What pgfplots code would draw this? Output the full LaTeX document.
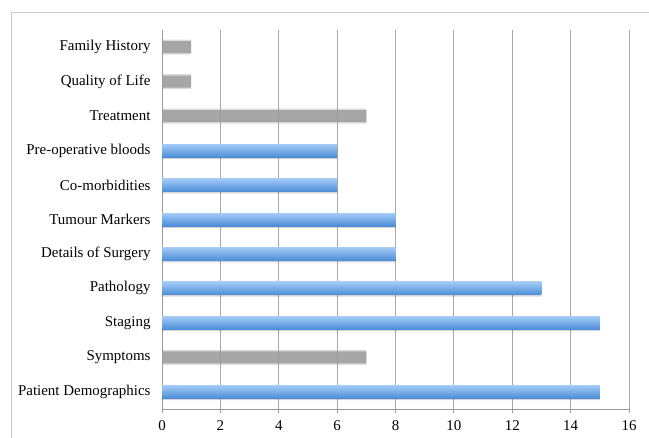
\documentclass[border=0pt]{standalone}
\usepackage{fontspec}
\setmainfont{Liberation Serif}
\usepackage{pgfplots}
\pgfplotsset{compat=1.18}
\definecolor{bluetop}{HTML}{A3CBF6}
\definecolor{bluebot}{HTML}{4C8DD8}
\definecolor{greybar}{HTML}{999999}
\definecolor{gridc}{HTML}{A8A8A8}
\definecolor{axisc}{HTML}{9A9A9A}
\definecolor{framec}{HTML}{C8C8C8}
\pgfplotsset{bluebar/.style={xbar, bar width=13bp, top color=bluetop, bottom color=bluebot, draw=none},
  shadowbar/.style={xbar, bar width=13bp, bar shift=-1.8bp, fill=black, fill opacity=0.16, draw=none}}
\begin{document}
\begin{tikzpicture}[x=1bp,y=1bp]
\useasboundingbox (0,0) rectangle (649,-438);
\draw[framec, line width=0.9bp] (11,-438) -- (11,-12) -- (649,-12);
\begin{axis}[
  at={(162bp,-409bp)}, anchor=south west,
  scale only axis, width=467bp, height=379bp,
  xmin=0, xmax=16, ymin=-0.5, ymax=10.5,
  xtick={0,2,...,16},
  ytick={0,...,10},
  yticklabels={Patient Demographics,Symptoms,Staging,Pathology,Details of Surgery,Tumour Markers,Co-morbidities,Pre-operative bloods,Treatment,Quality of Life,Family History},
  minor ytick={-0.5,0.5,...,10.5},
  axis x line*=bottom, axis y line*=left,
  axis line style={axisc, line width=0.8bp},
  tick align=outside,
  major tick length=4bp, minor tick length=4bp,
  ytick style={draw=none},
  minor tick style={draw=axisc, line width=0.8bp},
  xtick style={axisc, line width=0.8bp},
  xmajorgrids, major grid style={gridc, line width=0.8bp},
  tick label style={font=\fontsize{15}{17}\selectfont, text=black},
  /pgf/number format/assume math mode=true,
  xticklabel style={yshift=-4bp},
  yticklabel style={xshift=-4bp},
  xbar, bar shift=0pt,
  clip=false,
]
% grey bars (soft edges)
\addplot[xbar, bar width=15bp, fill=greybar, fill opacity=0.35, draw=none]
  coordinates {(7,1) (7,8) (1,9) (1,10)};
\addplot[xbar, bar width=12bp, fill=greybar, fill opacity=0.8, draw=none]
  coordinates {(7,1) (7,8) (1,9) (1,10)};
% shadow of blue bars
\addplot[shadowbar] coordinates {(15,0) (15,2) (13,3) (8,4) (8,5) (6,6) (6,7)};
% blue bars, one per plot so each has its own shading
\addplot[bluebar] coordinates {(15,0)};
\addplot[bluebar] coordinates {(15,2)};
\addplot[bluebar] coordinates {(13,3)};
\addplot[bluebar] coordinates {(8,4)};
\addplot[bluebar] coordinates {(8,5)};
\addplot[bluebar] coordinates {(6,6)};
\addplot[bluebar] coordinates {(6,7)};
\end{axis}
\end{tikzpicture}
\end{document}
